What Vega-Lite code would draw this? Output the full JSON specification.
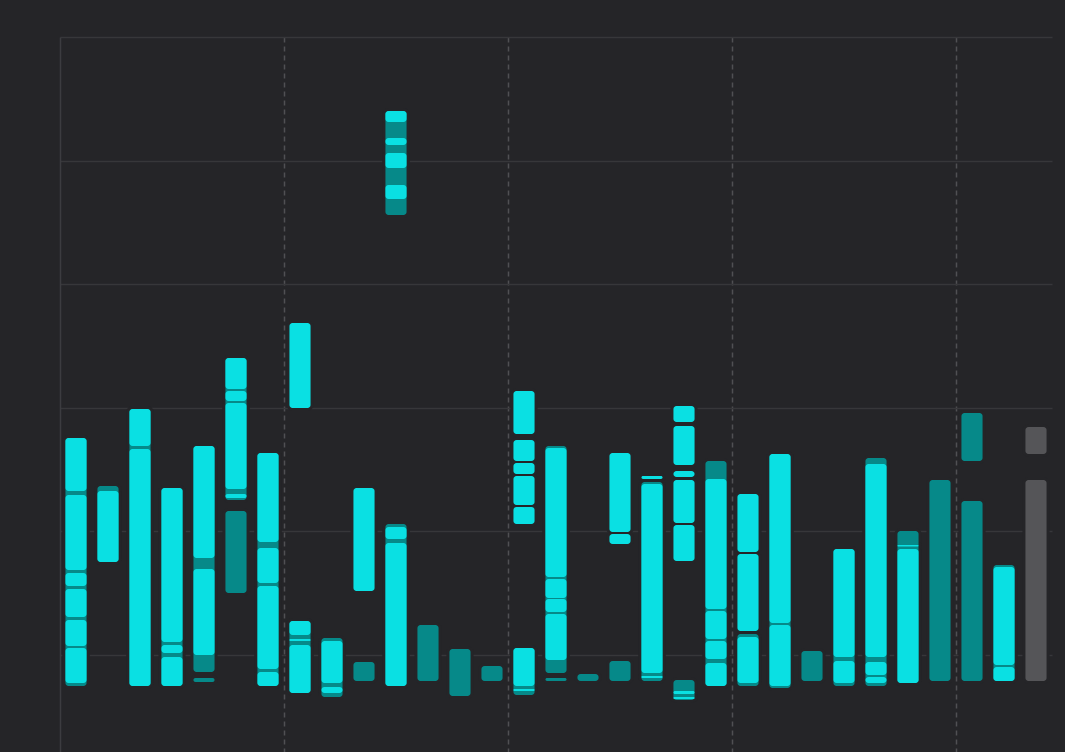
{
  "$schema": "https://vega.github.io/schema/vega-lite/v6.json",
  "width": 992,
  "height": 715,
  "autosize": {"type": "none"},
  "padding": {"left": 60, "top": 37, "right": 13, "bottom": 0},
  "background": "#252528",
  "config": {"view": {"stroke": null}},
  "data": {"values": [
    {"day":0,"kind":"range","lo":17.56,"hi":-2.51},
    {"day":0,"kind":"seg","lo":17.56,"hi":13.27},
    {"day":0,"kind":"seg","lo":12.94,"hi":6.88},
    {"day":0,"kind":"seg","lo":6.63,"hi":5.58},
    {"day":0,"kind":"seg","lo":5.34,"hi":3.07},
    {"day":0,"kind":"seg","lo":2.83,"hi":0.73},
    {"day":0,"kind":"seg","lo":0.57,"hi":-2.27},
    {"day":1,"kind":"range","lo":13.67,"hi":7.52},
    {"day":1,"kind":"seg","lo":13.27,"hi":7.52},
    {"day":2,"kind":"range","lo":19.90,"hi":-2.51},
    {"day":2,"kind":"seg","lo":19.90,"hi":16.91},
    {"day":2,"kind":"seg","lo":16.67,"hi":-2.51},
    {"day":3,"kind":"range","lo":13.51,"hi":-2.51},
    {"day":3,"kind":"seg","lo":13.51,"hi":1.05},
    {"day":3,"kind":"seg","lo":0.81,"hi":0.16},
    {"day":3,"kind":"seg","lo":-0.16,"hi":-2.51},
    {"day":4,"kind":"range","lo":16.91,"hi":-1.38},
    {"day":4,"kind":"seg","lo":16.91,"hi":7.85},
    {"day":4,"kind":"seg","lo":6.96,"hi":0.0},
    {"day":4,"kind":"range","lo":-1.86,"hi":-2.18},
    {"day":5,"kind":"range","lo":24.03,"hi":12.54},
    {"day":5,"kind":"seg","lo":24.03,"hi":21.52},
    {"day":5,"kind":"seg","lo":21.36,"hi":20.55},
    {"day":5,"kind":"seg","lo":20.39,"hi":13.43},
    {"day":5,"kind":"seg","lo":13.03,"hi":12.70},
    {"day":5,"kind":"range","lo":11.65,"hi":5.02},
    {"day":6,"kind":"range","lo":16.34,"hi":-2.51},
    {"day":6,"kind":"seg","lo":16.34,"hi":9.14},
    {"day":6,"kind":"seg","lo":8.66,"hi":5.83},
    {"day":6,"kind":"seg","lo":5.58,"hi":-1.13},
    {"day":6,"kind":"seg","lo":-1.38,"hi":-2.51},
    {"day":7,"kind":"seg","lo":26.86,"hi":19.98},
    {"day":7,"kind":"range","lo":2.75,"hi":-3.07},
    {"day":7,"kind":"seg","lo":2.75,"hi":1.62},
    {"day":7,"kind":"seg","lo":1.29,"hi":1.13},
    {"day":7,"kind":"seg","lo":0.81,"hi":-3.07},
    {"day":8,"kind":"range","lo":1.38,"hi":-3.40},
    {"day":8,"kind":"seg","lo":1.13,"hi":-2.27},
    {"day":8,"kind":"seg","lo":-2.59,"hi":-3.07},
    {"day":9,"kind":"seg","lo":13.51,"hi":5.18},
    {"day":9,"kind":"range","lo":-0.57,"hi":-2.10},
    {"day":10,"kind":"range","lo":44.01,"hi":35.60},
    {"day":10,"kind":"seg","lo":44.01,"hi":43.12},
    {"day":10,"kind":"seg","lo":41.83,"hi":41.26},
    {"day":10,"kind":"seg","lo":40.61,"hi":39.40},
    {"day":10,"kind":"seg","lo":38.03,"hi":36.89},
    {"day":10,"kind":"range","lo":10.60,"hi":-2.51},
    {"day":10,"kind":"seg","lo":10.36,"hi":9.39},
    {"day":10,"kind":"seg","lo":9.06,"hi":-2.51},
    {"day":11,"kind":"range","lo":2.43,"hi":-2.10},
    {"day":12,"kind":"range","lo":0.49,"hi":-3.32},
    {"day":13,"kind":"range","lo":-0.89,"hi":-2.10},
    {"day":14,"kind":"seg","lo":21.36,"hi":17.88},
    {"day":14,"kind":"seg","lo":17.39,"hi":15.70},
    {"day":14,"kind":"seg","lo":15.53,"hi":14.64},
    {"day":14,"kind":"seg","lo":14.48,"hi":12.14},
    {"day":14,"kind":"seg","lo":11.97,"hi":10.60},
    {"day":14,"kind":"range","lo":0.57,"hi":-3.24},
    {"day":14,"kind":"seg","lo":0.57,"hi":-2.51},
    {"day":14,"kind":"seg","lo":-2.75,"hi":-2.91},
    {"day":15,"kind":"range","lo":16.91,"hi":-1.46},
    {"day":15,"kind":"seg","lo":16.75,"hi":6.31},
    {"day":15,"kind":"seg","lo":6.15,"hi":4.61},
    {"day":15,"kind":"seg","lo":4.53,"hi":3.48},
    {"day":15,"kind":"seg","lo":3.32,"hi":-0.40},
    {"day":15,"kind":"range","lo":-1.86,"hi":-2.10},
    {"day":16,"kind":"range","lo":-1.54,"hi":-2.10},
    {"day":17,"kind":"seg","lo":16.34,"hi":9.95},
    {"day":17,"kind":"seg","lo":9.79,"hi":8.98},
    {"day":17,"kind":"range","lo":-0.49,"hi":-2.10},
    {"day":18,"kind":"seg","lo":14.48,"hi":14.24},
    {"day":18,"kind":"range","lo":14.00,"hi":-2.10},
    {"day":18,"kind":"seg","lo":13.83,"hi":-1.46},
    {"day":18,"kind":"seg","lo":-1.70,"hi":-1.86},
    {"day":19,"kind":"seg","lo":20.15,"hi":18.85},
    {"day":19,"kind":"seg","lo":18.53,"hi":15.37},
    {"day":19,"kind":"seg","lo":14.89,"hi":14.40},
    {"day":19,"kind":"seg","lo":14.16,"hi":10.68},
    {"day":19,"kind":"seg","lo":10.52,"hi":7.61},
    {"day":19,"kind":"range","lo":-2.02,"hi":-3.64},
    {"day":19,"kind":"seg","lo":-2.91,"hi":-3.16},
    {"day":19,"kind":"seg","lo":-3.40,"hi":-3.56},
    {"day":20,"kind":"range","lo":15.70,"hi":-2.51},
    {"day":20,"kind":"seg","lo":14.24,"hi":3.72},
    {"day":20,"kind":"seg","lo":3.56,"hi":1.29},
    {"day":20,"kind":"seg","lo":1.13,"hi":-0.32},
    {"day":20,"kind":"seg","lo":-0.65,"hi":-2.51},
    {"day":21,"kind":"seg","lo":13.03,"hi":8.33},
    {"day":21,"kind":"seg","lo":8.17,"hi":1.94},
    {"day":21,"kind":"range","lo":1.70,"hi":-2.51},
    {"day":21,"kind":"seg","lo":1.46,"hi":-2.27},
    {"day":22,"kind":"range","lo":16.26,"hi":-2.67},
    {"day":22,"kind":"seg","lo":16.26,"hi":2.59},
    {"day":22,"kind":"seg","lo":2.43,"hi":-2.51},
    {"day":23,"kind":"range","lo":0.32,"hi":-2.10},
    {"day":24,"kind":"range","lo":8.58,"hi":-2.51},
    {"day":24,"kind":"seg","lo":8.58,"hi":-0.16},
    {"day":24,"kind":"seg","lo":-0.49,"hi":-2.27},
    {"day":25,"kind":"range","lo":15.94,"hi":-2.51},
    {"day":25,"kind":"seg","lo":15.45,"hi":-0.16},
    {"day":25,"kind":"seg","lo":-0.57,"hi":-1.62},
    {"day":25,"kind":"seg","lo":-1.78,"hi":-2.27},
    {"day":26,"kind":"range","lo":10.03,"hi":-2.27},
    {"day":26,"kind":"seg","lo":8.90,"hi":8.78},
    {"day":26,"kind":"seg","lo":8.58,"hi":-2.27},
    {"day":27,"kind":"range","lo":14.16,"hi":-2.10},
    {"day":28,"kind":"range","lo":19.58,"hi":15.70},
    {"day":28,"kind":"range","lo":12.46,"hi":-2.10},
    {"day":29,"kind":"range","lo":7.28,"hi":-2.10},
    {"day":29,"kind":"seg","lo":7.12,"hi":-0.81},
    {"day":29,"kind":"seg","lo":-0.97,"hi":-2.10},
    {"day":30,"kind":"forecast","lo":18.45,"hi":16.26},
    {"day":30,"kind":"forecast","lo":14.16,"hi":-2.10}
  ]},
  "encoding": {
    "x": {
      "field": "day", "type": "ordinal",
      "scale": {"type": "band", "paddingInner": 0, "paddingOuter": 0},
      "axis": {
        "title": null, "labels": false, "ticks": false, "domain": false,
        "grid": true, "gridColor": "#505053", "gridDash": [5, 4], "gridWidth": 1.5,
        "values": [7, 14, 21, 28], "bandPosition": 0
      }
    },
    "y": {
      "field": "lo", "type": "quantitative",
      "scale": {"domain": [-7.85, 50], "nice": false, "zero": false},
      "axis": {
        "title": null, "labels": false, "ticks": false,
        "domain": true, "domainColor": "#3c3c40", "domainWidth": 1.5,
        "grid": true, "gridColor": "#37373a", "gridWidth": 1.5,
        "values": [0, 10, 20, 30, 40, 50]
      }
    },
    "y2": {"field": "hi"}
  },
  "layer": [
    {
      "mark": {"type": "bar", "width": {"band": 0.66}, "cornerRadius": 3, "fill": "#252528", "stroke": "#252528", "strokeWidth": 6}
    },
    {
      "transform": [{"filter": "datum.kind !== 'seg'"}],
      "mark": {"type": "bar", "width": {"band": 0.66}, "cornerRadius": 3},
      "encoding": {
        "color": {
          "field": "kind", "type": "nominal",
          "scale": {"domain": ["range", "seg", "forecast"], "range": ["#068989", "#0ae0e3", "#555558"]},
          "legend": null
        }
      }
    },
    {
      "transform": [{"filter": "datum.kind === 'seg'"}],
      "mark": {"type": "bar", "width": {"band": 0.66}, "cornerRadius": 3, "color": "#0ae0e3"}
    }
  ]
}
